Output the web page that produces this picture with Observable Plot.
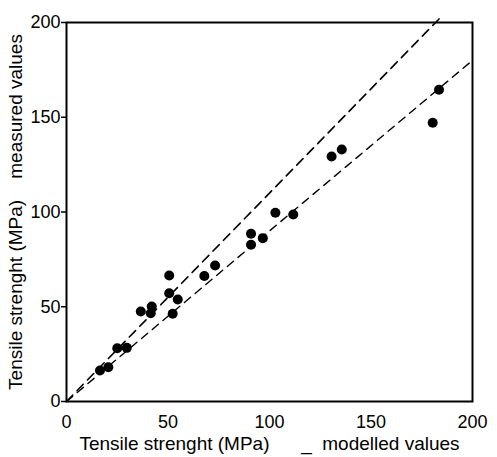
<!DOCTYPE html>
<html>
<head>
<meta charset="utf-8">
<script src="https://cdn.jsdelivr.net/npm/d3@7"></script>
<script src="https://cdn.jsdelivr.net/npm/@observablehq/plot@0.6"></script>
<style>
  html, body { margin: 0; padding: 0; background: #fff; }
  #chart svg { font-family: "Liberation Sans", Arial, sans-serif; }
  #chart g[aria-label="x-axis label"] text,
  #chart g[aria-label="y-axis label"] text { font-size: 19px; }
</style>
</head>
<body>
<div id="chart"></div>
<script>
// modelled (x) vs measured (y) tensile strength, MPa
const modelled = [16.5, 20.6, 25.0, 29.7, 36.6, 42.0, 41.5, 52.3, 50.6, 50.6, 54.8, 67.9, 73.2, 90.9, 90.9, 96.7, 102.9, 111.7, 130.6, 135.6, 183.5, 180.4];
const measured = [16.4, 18.1, 28.1, 28.3, 47.5, 50.1, 46.6, 46.3, 66.5, 57.1, 53.8, 66.2, 71.8, 88.5, 82.7, 86.2, 99.6, 98.7, 129.3, 133.0, 164.5, 147.1];
const upperLineX = [0, 184];
const upperLineY = [0, 202.4];
const lowerLineX = [0, 200];
const lowerLineY = [0, 180];
const ticks = [0, 50, 100, 150, 200];
const xLabel = "Tensile strenght (MPa)\u00A0\u00A0\u00A0\u00A0\u00A0\u00A0_\u00A0\u00A0modelled values";
const yLabel = "Tensile strenght (MPa)\u00A0\u00A0\u00A0\u00A0measured values";

const points = modelled.map((x, i) => ({x, y: measured[i]}));
const upper = upperLineX.map((x, i) => ({x, y: upperLineY[i]}));
const lower = lowerLineX.map((x, i) => ({x, y: lowerLineY[i]}));

const chart = Plot.plot({
  width: 497,
  height: 457,
  marginLeft: 66,
  marginRight: 25,
  marginTop: 22,
  marginBottom: 56,
  style: {fontFamily: "Liberation Sans, Arial, sans-serif", fontSize: "18px", color: "#000", background: "#fff"},
  x: {domain: [0, 200]},
  y: {domain: [0, 200]},
  marks: [
    Plot.frame({stroke: "#000", strokeWidth: 2}),
    Plot.line(upper, {x: "x", y: "y", stroke: "#000", strokeWidth: 1.6, strokeDasharray: "9,6", clip: false}),
    Plot.line(lower, {x: "x", y: "y", stroke: "#000", strokeWidth: 1.4, strokeDasharray: "8,6"}),
    Plot.dot(points, {x: "x", y: "y", r: 5, fill: "#000", stroke: "none"}),
    Plot.axisX({ticks, tickSize: 0, tickPadding: 14, fontSize: 18,
      label: xLabel, labelAnchor: "center", labelArrow: "none", labelOffset: 48}),
    Plot.axisY({ticks, tickSize: 5, tickPadding: 1, strokeWidth: 1.5, fontSize: 18,
      label: yLabel, labelAnchor: "center", labelArrow: "none", labelOffset: 58})
  ]
});
document.getElementById("chart").appendChild(chart);
</script>
</body>
</html>
